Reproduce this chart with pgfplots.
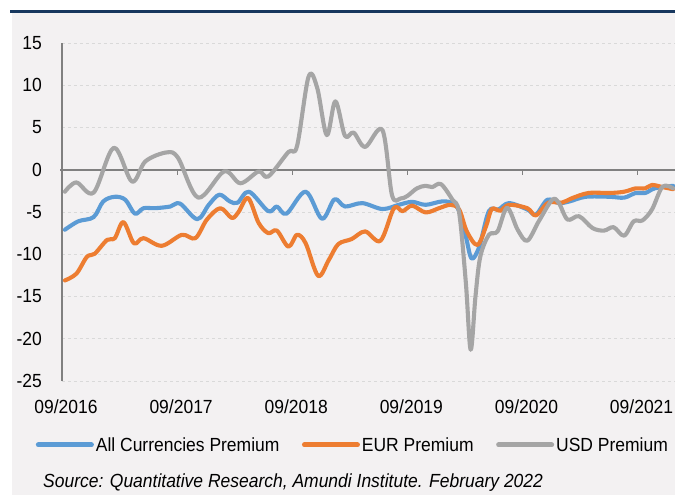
\documentclass[border=0pt]{standalone}
\usepackage{fontspec}
\setmainfont{Liberation Sans}[FakeStretch=0.92]
\usepackage{pgfplots}
\pgfplotsset{compat=1.18}
\definecolor{cblue}{HTML}{5B9BD5}
\definecolor{corange}{HTML}{ED7D31}
\definecolor{cgray}{HTML}{A5A5A5}
\definecolor{bgc}{HTML}{F3F1F2}
\definecolor{navy}{HTML}{17375E}
\definecolor{axgray}{HTML}{808080}
\definecolor{gridc}{HTML}{D9D9D9}
\newcommand{\tfont}{\fontsize{19}{22}\selectfont}
\begin{document}
\begin{tikzpicture}[x=1pt,y=1pt]
\useasboundingbox (0,0) rectangle (675,495);
\fill[bgc] (12,0) rectangle (675,481.5);
\draw[navy, line width=2.4pt] (10,483.3) -- (675,483.3);
\begin{axis}[
  at={(62pt,114pt)}, anchor=south west,
  scale only axis, width=613pt, height=338pt,
  xmin=0, xmax=63.9, ymin=-25, ymax=15,
  ytick={-25,-20,...,15},
  xtick={0,12,24,36,48,60},
  xticklabels={09/2016,09/2017,09/2018,09/2019,09/2020,09/2021},
  major tick length=0pt,
  axis line style={draw=none},
  ymajorgrids,
  grid style={gridc, dashed, line width=0.9pt},
  /pgf/number format/assume math mode=true,
  tick label style={font=\tfont, text=black},
  yticklabel style={anchor=east, inner sep=0pt, xshift=-20pt},
  xticklabel style={anchor=center, inner sep=0pt, yshift=-26pt, xshift=4pt},
  legend columns=3,
  legend style={draw=none, fill=none, at={(0.4745,-0.189)}, anchor=center,
    font=\tfont, inner sep=0pt,
    /tikz/every even column/.append style={column sep=20.5pt}},
  legend image code/.code={\draw[#1, line width=5pt] (0pt,0pt) -- (53pt,0pt);},
  every axis plot/.append style={line width=4.1pt, smooth, tension=0.55, line cap=round, line join=round},
  clip=false,
]
\draw[axgray, line width=1.6pt] (axis cs:0,-25) -- (axis cs:0,15);
\draw[axgray, line width=1.6pt] (axis cs:-0.2,0) -- (axis cs:63.9,0);
\draw[axgray, line width=1.2pt] (axis cs:12,0) -- (axis cs:12,-0.6);
\draw[axgray, line width=1.2pt] (axis cs:24,0) -- (axis cs:24,-0.6);
\draw[axgray, line width=1.2pt] (axis cs:36,0) -- (axis cs:36,-0.6);
\draw[axgray, line width=1.2pt] (axis cs:48,0) -- (axis cs:48,-0.6);
\draw[axgray, line width=1.2pt] (axis cs:60,0) -- (axis cs:60,-0.6);
\addplot[cblue] coordinates {
(0.3,-7.1) (1.7,-6.1) (3.3,-5.6) (4.3,-3.75) (5.5,-3.2) (6.6,-3.55) (7.6,-5.2)
(8.5,-4.55) (9.7,-4.55) (11.3,-4.35) (12.3,-4.0) (14.1,-5.85) (15.3,-4.15)
(16.4,-2.95) (17.5,-3.75) (18.3,-3.9) (19.5,-2.6) (21.5,-4.9) (22.4,-4.35)
(23.4,-5.2) (25.4,-2.6) (27.1,-5.8) (28.4,-3.5) (29.5,-4.35) (31.3,-3.95)
(33.4,-4.65) (35.1,-4.15) (36.5,-3.8) (37.9,-4.15) (39.6,-3.75) (40.7,-3.95)
(41.4,-4.9) (42.1,-7.9) (42.7,-10.5) (43.5,-9.1) (44.5,-4.9) (45.5,-4.7)
(46.6,-3.95) (48.5,-4.7) (49.4,-5.3) (50.6,-3.55) (51.8,-3.95) (52.9,-3.75)
(54.6,-3.2) (57.1,-3.2) (58.6,-3.3) (59.8,-2.75) (60.8,-2.75) (61.8,-2.2) (63.7,-1.9)
};
\addlegendentry{All Currencies Premium}
\addplot[corange] coordinates {
(0.3,-13.1) (1.5,-12.3) (2.6,-10.3) (3.4,-9.95) (4.7,-8.3) (5.5,-8.1) (6.4,-6.2)
(7.5,-8.7) (8.5,-8.1) (10.4,-9.0) (12.5,-7.7) (13.9,-8.1) (15.1,-5.9) (16.5,-4.55)
(17.7,-5.7) (18.4,-5.0) (19.4,-3.35) (20.5,-6.3) (21.5,-7.5) (22.4,-7.2) (23.6,-9.1)
(24.5,-7.7) (25.4,-8.7) (26.7,-12.55) (27.8,-10.7) (28.8,-8.8) (30.2,-8.2)
(31.6,-7.3) (33.2,-8.4) (34.6,-4.55) (35.5,-4.9) (36.5,-4.25) (37.9,-5.05)
(39.3,-4.55) (40.5,-4.15) (41.4,-4.7) (42.2,-7.3) (43.3,-8.9) (44.2,-6.7)
(44.8,-4.65) (45.7,-4.85) (46.6,-4.15) (48.5,-4.55) (49.4,-5.4) (50.7,-3.9)
(52.1,-3.9) (53.2,-3.35) (54.9,-2.75) (57.1,-2.75) (58.6,-2.6) (59.8,-2.2)
(60.8,-2.2) (61.5,-1.8) (62.6,-2.05) (63.7,-2.3)
};
\addlegendentry{EUR Premium}
\addplot[cgray] coordinates {
(0.3,-2.6) (1.5,-1.5) (3.3,-2.7) (5.4,2.6) (7.3,-1.4) (8.7,1.0) (10.9,2.05)
(12.1,1.4) (14.2,-3.3) (16.9,-0.2) (18.6,-1.6) (20.5,-0.2) (21.5,-0.8) (23.6,2.1)
(24.5,2.8) (25.7,11.0) (26.6,9.7) (27.6,4.1) (28.5,8.1) (29.5,4.0) (30.4,4.4)
(31.6,2.7) (33.4,4.7) (34.4,-3.0) (35.3,-3.4) (36.0,-3.1) (37.0,-2.2) (37.9,-1.9)
(38.6,-2.05) (39.5,-1.7) (40.7,-3.55) (41.4,-5.1) (42.1,-13.4) (42.6,-21.3)
(43.1,-15.0) (43.6,-10.3) (44.5,-7.7) (45.4,-7.3) (46.4,-4.5) (47.5,-7.1)
(48.5,-8.4) (49.7,-6.1) (51.1,-3.55) (51.8,-3.95) (52.7,-5.9) (53.9,-5.5)
(55.3,-6.9) (56.5,-7.2) (57.5,-6.8) (58.6,-7.8) (59.6,-6.1) (60.5,-6.0)
(61.5,-4.7) (62.6,-2.0) (63.7,-2.2)
};
\addlegendentry{USD Premium}
\end{axis}
\node[anchor=west, inner sep=0pt, font=\tfont\itshape] at (43,12) {Source: Quantitative Research, Amundi Institute. February 2022};
\end{tikzpicture}
\end{document}
